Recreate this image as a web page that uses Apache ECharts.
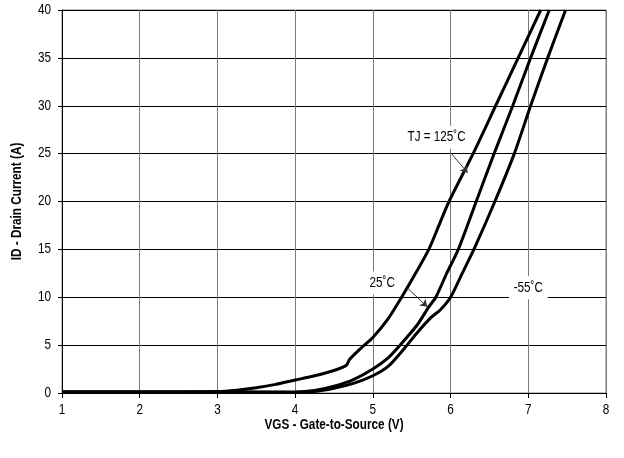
<!DOCTYPE html>
<html>
<head>
<meta charset="utf-8">
<script src="https://cdn.jsdelivr.net/npm/echarts@6/dist/echarts.min.js"></script>
<style>html,body{margin:0;padding:0;background:#fff}#c{width:624px;height:458px}</style>
</head>
<body>
<div id="c"></div>
<script>
// Data (VGS in volts, ID in amps)
const vgs125 = [1, 2, 3, 3.25, 3.5, 3.75, 4, 4.25, 4.5, 4.66, 4.7, 4.85, 5, 5.2, 5.37, 5.55, 5.72, 5.85, 5.98, 6.29, 6.58, 6.87, 7.16];
const id125  = [0.1, 0.1, 0.15, 0.3, 0.55, 0.9, 1.35, 1.8, 2.35, 2.9, 3.5, 4.7, 5.8, 7.8, 10, 12.5, 15, 17.5, 20, 25, 30, 35, 40];
const vgs25  = [1, 2, 3, 4, 4.25, 4.5, 4.75, 5, 5.2, 5.35, 5.57, 5.72, 5.81, 5.95, 6.1, 6.33, 6.56, 6.8, 7.03, 7.27];
const id25   = [0.1, 0.1, 0.1, 0.1, 0.25, 0.7, 1.4, 2.5, 3.7, 5, 7.1, 9, 10, 12.5, 15, 20, 25, 30, 35, 40];
const vgsM55 = [1, 2, 3, 4, 4.25, 4.5, 4.75, 5, 5.2, 5.4, 5.57, 5.75, 5.87, 6, 6.15, 6.3, 6.57, 6.82, 7.03, 7.25, 7.48];
const idM55  = [0.1, 0.1, 0.1, 0.05, 0.15, 0.5, 1.0, 1.8, 2.8, 4.6, 6.3, 7.9, 8.7, 10, 12.5, 15, 20, 25, 30, 35, 40];

const xTicks = [1, 2, 3, 4, 5, 6, 7, 8];
const yTicks = [0, 5, 10, 15, 20, 25, 30, 35, 40];

const xName = 'VGS - Gate-to-Source (V)';
const yName = 'ID - Drain Current (A)';

// Annotation labels: [vgs, id, text]
const labelData = [
  [5.82, 26.7, 'TJ = 125˚C'],
  [5.12, 11.5, '25˚C'],
  [7.0, 11.0, '-55˚C']
];
// Arrow lines: [[vgsFrom, idFrom], [vgsTo, idTo]]
const arrowData = [
  [[6.0, 25.1], [6.22, 23.0]],
  [[5.44, 11.0], [5.70, 9.0]]
];

const FONT = '"Liberation Sans", Arial, sans-serif';
const NARROW = 0.84; // horizontal condensing to imitate a narrow face

const zip = (a, b) => a.map((v, i) => [v, b[i]]);

const curve = (name, data) => ({
  name, type: 'line', data, showSymbol: false, smooth: 0.25,
  lineStyle: { color: '#000', width: 3 }, z: 3, silent: true
});

const chart = echarts.init(document.getElementById('c'), null, { renderer: 'canvas' });
chart.setOption({
  animation: false,
  backgroundColor: '#fff',
  grid: { left: 62, right: 18, top: 10, bottom: 65, show: true, borderColor: '#808080', borderWidth: 1 },
  xAxis: {
    type: 'value', min: xTicks[0], max: xTicks[xTicks.length - 1], interval: 1,
    axisLine: { show: true, lineStyle: { color: '#000', width: 1 } },
    axisTick: { show: true, length: 5, lineStyle: { color: '#000' } },
    axisLabel: { show: false },
    splitLine: { show: true, lineStyle: { color: '#7a7a7a', width: 1 } }
  },
  yAxis: {
    type: 'value', min: yTicks[0], max: yTicks[yTicks.length - 1], interval: 5,
    axisLine: { show: true, lineStyle: { color: '#000', width: 1 } },
    axisTick: { show: true, length: 4, lineStyle: { color: '#000' } },
    axisLabel: { show: false },
    splitLine: { show: true, lineStyle: { color: '#000', width: 1 } }
  },
  series: [
    curve('125', zip(vgs125, id125)),
    curve('25', zip(vgs25, id25)),
    curve('-55', zip(vgsM55, idM55)),
    {
      type: 'lines', coordinateSystem: 'cartesian2d', silent: true, z: 4,
      symbol: ['none', 'arrow'], symbolSize: [0, 7],
      lineStyle: { color: '#333', width: 1, opacity: 1 },
      data: arrowData.map(a => ({ coords: a }))
    }
  ]
});

// Text placed through the axes' scales, drawn in a horizontally condensed face
const px = (v, i) => chart.convertToPixel({ gridIndex: 0 }, [v, i]);
const txt = (text, x, y, opt) => Object.assign({
  type: 'text', x, y, scaleX: NARROW, z: 100, silent: true,
  style: Object.assign({
    text, font: '14px ' + FONT, fill: '#000', align: 'center', verticalAlign: 'middle'
  }, opt && opt.style)
}, opt && opt.el);

const g = [];
xTicks.forEach(t => { const p = px(t, yTicks[0]); g.push(txt(String(t), p[0], p[1] + 17)); });
yTicks.forEach(t => { const p = px(xTicks[0], t); g.push(txt(String(t), p[0] - 11, p[1], { style: { align: 'right' } })); });

const xMid = (xTicks[0] + xTicks[xTicks.length - 1]) / 2;
const yMid = (yTicks[0] + yTicks[yTicks.length - 1]) / 2;
const pxName = px(xMid, yTicks[0]);
g.push(txt(xName, pxName[0], pxName[1] + 32, { style: { font: 'bold 14px ' + FONT } }));
const pyName = px(xTicks[0], yMid);
g.push(txt(yName, pyName[0] - 45, pyName[1], { style: { font: 'bold 14px ' + FONT }, el: { rotation: Math.PI / 2 } }));

labelData.forEach(d => {
  const p = px(d[0], d[1]);
  g.push(txt(d[2], p[0], p[1], { style: { font: '15px ' + FONT, backgroundColor: '#fff', padding: [4, 6] }, el: { scaleX: 0.78 } }));
});

chart.setOption({ graphic: g });
</script>
</body>
</html>
